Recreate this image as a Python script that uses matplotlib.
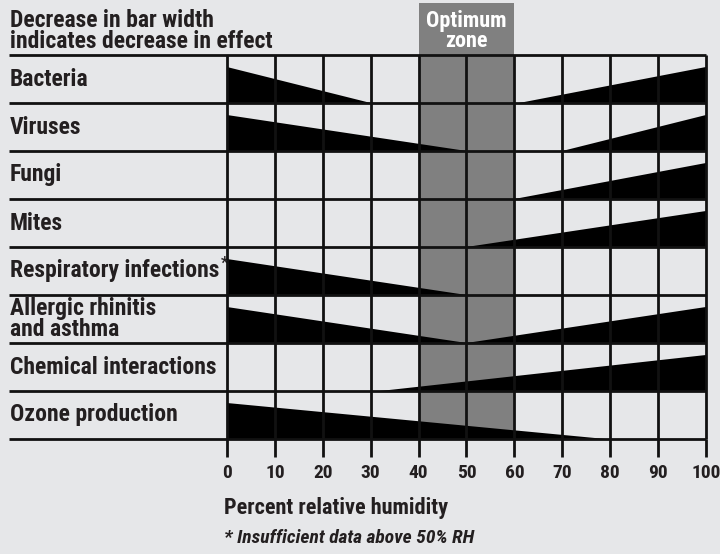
import matplotlib
matplotlib.use("Agg")
import matplotlib.pyplot as plt
from matplotlib import font_manager

# effects listed top to bottom
effects = ["Bacteria", "Viruses", "Fungi", "Mites", "Respiratory infections",
           "Allergic rhinitis\nand asthma", "Chemical interactions", "Ozone production"]
# %RH where the low-humidity wedge thins out (None = no wedge)
low_end = [30, 50, None, None, 50, 50, None, 79]
# %RH where the high-humidity wedge starts (None = no wedge)
high_start = [61, 70, 60, 50, None, 50, 32, None]
optimum = (40, 60)
ticks = list(range(0, 101, 10))

# condensed bold font if we have one
names = {f.name for f in font_manager.fontManager.ttflist}
font = "DejaVu Sans"
for n in ["Liberation Sans Narrow", "Roboto Condensed", "Open Sans Condensed"]:
    if n in names:
        font = n
        break
plt.rcParams['font.family'] = [font, 'DejaVu Sans']
plt.rcParams['font.weight'] = 'bold'
if font == "DejaVu Sans":
    plt.rcParams['font.stretch'] = 'condensed'

bg = '#e6e7e9'
ink = '#111111'
txt = '#231f20'
lw = 2.0

fig = plt.figure(figsize=(7.2, 5.54), dpi=100, facecolor=bg)
ax = fig.add_axes([9/720, 115/554, 697/720, 436/554], facecolor=bg)
nrows = len(effects)
ax.set_xlim(-45.5, 100)
ax.set_ylim(0, 436/48)

# optimum zone
ax.axvspan(optimum[0], optimum[1], color='#808080', lw=0, zorder=0)
ax.text(sum(optimum)/2, nrows + 0.5, "Optimum\nzone", ha='center', va='center',
        color='white', fontsize=16, linespacing=0.9)

# wedges
h = 0.75
for i, name in enumerate(effects):
    base = nrows - 1 - i
    if low_end[i] is not None:
        ax.fill([0, 0, low_end[i]], [base, base + h, base], color='black', lw=0, zorder=2)
    if high_start[i] is not None:
        ax.fill([high_start[i], 100, 100], [base, base + h, base], color='black', lw=0, zorder=2)
    t = ax.text(-45.3, base + 0.5, name, ha='left', va='center', fontsize=17,
                color=txt, linespacing=0.85)
    if name.startswith("Respiratory"):
        ax.annotate("*", xy=(1.0, 1.0), xycoords=t, xytext=(1, 3),
                    textcoords='offset points', ha='left', va='top',
                    fontsize=12, color=txt)

# grid
ax.vlines(ticks, 0, nrows, color=ink, lw=lw, zorder=3, clip_on=False)
ax.hlines(range(nrows + 1), -45.5, 100, color=ink, lw=lw, zorder=3, clip_on=False)

ax.text(-45.3, nrows + 0.5, "Decrease in bar width\nindicates decrease in effect",
        ha='left', va='center', fontsize=17, color=txt, linespacing=0.9)

for s in ax.spines.values():
    s.set_visible(False)
ax.set_yticks([])
ax.set_xticks(ticks)
ax.set_xticklabels([str(v) for v in ticks])
ax.tick_params(axis='x', direction='out', length=13, width=lw, color=ink,
               pad=5, labelsize=14, labelcolor=txt)

ax.set_xlabel("Percent relative humidity", fontsize=16, fontweight='bold', color=txt,
              ha='left', va='center')
ax.xaxis.set_label_coords((224 - 9)/697, -(508 - 439)/436)

fig.text(224/720, 1 - 538/554, "* Insufficient data above 50% RH", ha='left', va='center',
         fontsize=14, fontweight='bold', style='italic', color=txt)

fig.savefig("out.png", dpi=100, facecolor=bg)
